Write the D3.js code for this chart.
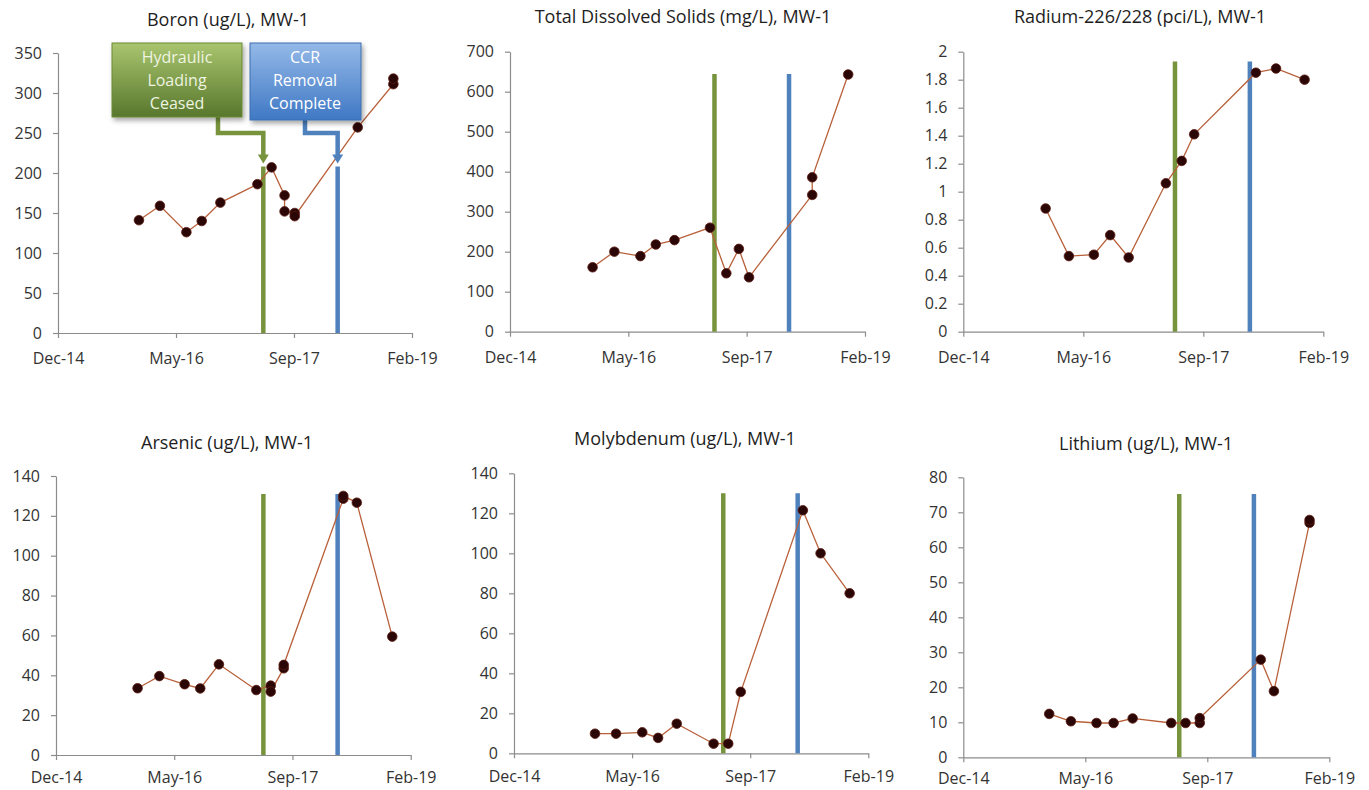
<!DOCTYPE html>
<html><head><meta charset="utf-8">
<script src="https://cdn.jsdelivr.net/npm/d3@7"></script>
<style>
body{margin:0;background:#fff}
svg{display:block}
text{font-family:"Open Sans","Noto Sans",sans-serif}
</style>
</head><body>
<svg id="chart" width="1369" height="790"></svg>
<script>
// ---------- shared axis data ----------
const xTickLabels = ["Dec-14", "May-16", "Sep-17", "Feb-19"];
const xTickDates  = ["2014-12-25", "2016-05-08", "2017-09-20", "2019-02-02"];

const titles = [
  "Boron (ug/L), MW-1",
  "Total Dissolved Solids (mg/L), MW-1",
  "Radium-226/228 (pci/L), MW-1",
  "Arsenic (ug/L), MW-1",
  "Molybdenum (ug/L), MW-1",
  "Lithium (ug/L), MW-1"
];
const yMax   = [350, 700, 2, 140, 140, 80];
const yStep  = [50, 100, 0.2, 20, 20, 10];

// ---------- series ----------
const boronDates  = ["2015-12-03","2016-03-01","2016-06-21","2016-08-25","2016-11-12","2017-04-18","2017-06-17","2017-08-11","2017-08-11","2017-09-23","2017-09-23","2018-06-17","2018-11-15","2018-11-15"];
const boronValues = [141, 159, 126, 140, 163, 186, 207, 172, 152, 150, 146, 257, 311, 318];

const tdsDates  = ["2015-12-09","2016-03-10","2016-06-28","2016-09-01","2016-11-19","2017-04-18","2017-06-26","2017-08-18","2017-09-30","2018-06-24","2018-06-24","2018-11-23"];
const tdsValues = [161, 200, 189, 218, 229, 260, 146, 207, 136, 342, 386, 643];

const radiumDates  = ["2015-12-03","2016-03-09","2016-06-21","2016-08-28","2016-11-13","2017-04-17","2017-06-22","2017-08-13","2018-04-27","2018-07-20","2018-11-16"];
const radiumValues = [0.88, 0.54, 0.55, 0.69, 0.53, 1.06, 1.22, 1.41, 1.85, 1.88, 1.80];

const arsenicDates  = ["2015-12-05","2016-03-06","2016-06-21","2016-08-26","2016-11-13","2017-04-20","2017-06-20","2017-06-20","2017-08-14","2017-08-14","2018-04-23","2018-04-23","2018-06-19","2018-11-16"];
const arsenicValues = [33.5, 39.6, 35.5, 33.4, 45.5, 32.6, 34.8, 31.8, 43.5, 45.2, 128.6, 130, 126.6, 59.4];

const molyDates  = ["2015-12-03","2016-03-01","2016-06-20","2016-08-26","2016-11-13","2017-04-18","2017-06-19","2017-08-11","2018-05-01","2018-07-15","2018-11-15"];
const molyValues = [9.8, 9.8, 10.5, 7.7, 14.8, 4.8, 4.8, 30.7, 121.5, 100, 80];

const lithiumDates  = ["2015-12-12","2016-03-10","2016-06-23","2016-09-01","2016-11-18","2017-04-25","2017-06-23","2017-08-20","2017-08-20","2018-04-27","2018-06-20","2018-11-13","2018-11-13"];
const lithiumValues = [12.4, 10.3, 9.8, 9.8, 11.1, 9.8, 9.8, 9.8, 11.2, 27.9, 18.9, 67, 67.8];

// ---------- event lines ----------
const eventLabels = ["Hydraulic Loading Ceased", "CCR Removal Complete"];
const greenDates = ["2017-05-13","2017-05-07","2017-05-25","2017-05-20","2017-05-29","2017-05-28"];
const blueDates  = ["2018-03-24","2018-03-18","2018-04-02","2018-03-30","2018-04-09","2018-03-30"];
const lineTops   = [212, 644, 1.93, 131, 130, 75.2];

// ---------- layout (pixels) ----------
const layout = [
  {l: 58,    r: 412,    t: 53,    b: 333,   tx: 228,  ty: 26,  pad: 15},
  {l: 510,   r: 865,    t: 51.7,  b: 331.7, tx: 683,  ty: 23,  pad: 15},
  {l: 963.3, r: 1323.3, t: 51.7,  b: 331.7, tx: 1140, ty: 23,  pad: 15},
  {l: 56,    r: 410.7,  t: 476,   b: 755,   tx: 227,  ty: 449, pad: 12},
  {l: 514,   r: 868.3,  t: 473.3, b: 753.3, tx: 685,  ty: 445, pad: 12},
  {l: 963.3, r: 1329.3, t: 477.3, b: 757.3, tx: 1146, ty: 450, pad: 10}
];

const seriesDates  = [boronDates, tdsDates, radiumDates, arsenicDates, molyDates, lithiumDates];
const seriesValues = [boronValues, tdsValues, radiumValues, arsenicValues, molyValues, lithiumValues];

const parse = d3.timeParse("%Y-%m-%d");
const svg = d3.select("#chart");

const defs = svg.append("defs");
const gG = defs.append("linearGradient").attr("id","gGreen").attr("x1",0).attr("y1",0).attr("x2",0).attr("y2",1);
gG.append("stop").attr("offset","0%").attr("stop-color","#a9c56f");
gG.append("stop").attr("offset","100%").attr("stop-color","#58772c");
const gB = defs.append("linearGradient").attr("id","gBlue").attr("x1",0).attr("y1",0).attr("x2",0).attr("y2",1);
gB.append("stop").attr("offset","0%").attr("stop-color","#94b9e8");
gB.append("stop").attr("offset","100%").attr("stop-color","#3f78c4");
const f = defs.append("filter").attr("id","shadow").attr("x","-20%").attr("y","-20%").attr("width","150%").attr("height","150%");
f.append("feDropShadow").attr("dx",2).attr("dy",3).attr("stdDeviation",2.5).attr("flood-color","#000").attr("flood-opacity",0.35);

const GREEN = "#77933c", BLUE = "#4f81bd";
const AXIS = "#8c8c8c", TEXT = "#333333";

const scales = [];

layout.forEach((L, i) => {
  const x = d3.scaleTime().domain([parse(xTickDates[0]), parse(xTickDates[3])]).range([L.l, L.r]);
  const y = d3.scaleLinear().domain([0, yMax[i]]).range([L.b, L.t]);
  scales.push({x, y});
  const g = svg.append("g");

  // title
  g.append("text").attr("x", L.tx).attr("y", L.ty).attr("text-anchor","middle")
    .attr("font-size", 18).attr("fill", "#1e1e1e").text(titles[i]);

  // y axis
  const yTicks = d3.range(0, yMax[i] + yStep[i] / 2, yStep[i]).map(v => +v.toFixed(4));
  const ya = g.append("g").attr("transform", `translate(${L.l},0)`)
    .call(d3.axisLeft(y).tickValues(yTicks).tickSize(5).tickSizeOuter(0).tickPadding(11)
      .tickFormat(d => d3.format("~g")(d)));
  // x axis
  const xa = g.append("g").attr("transform", `translate(0,${L.b})`)
    .call(d3.axisBottom(x).tickValues(xTickDates.map(parse)).tickSize(5).tickSizeOuter(0).tickPadding(L.pad)
      .tickFormat((d, k) => xTickLabels[k]));
  [ya, xa].forEach(a => {
    a.select(".domain").attr("stroke", AXIS).attr("stroke-width", 1.2);
    a.selectAll(".tick line").attr("stroke", AXIS).attr("stroke-width", 1.2);
    a.selectAll(".tick text").attr("fill", TEXT).attr("font-size", 16)
      .attr("font-family", '"Open Sans","Noto Sans",sans-serif');
  });

  // event lines
  const gx = x(parse(greenDates[i])), bx = x(parse(blueDates[i]));
  const top = y(lineTops[i]) + (i === 0 ? 3 : 0);
  g.append("line").attr("x1", gx).attr("x2", gx).attr("y1", top).attr("y2", L.b)
    .attr("stroke", GREEN).attr("stroke-width", 4.5);
  g.append("line").attr("x1", bx).attr("x2", bx).attr("y1", top).attr("y2", L.b)
    .attr("stroke", BLUE).attr("stroke-width", 4.5);

  // series
  const pts = seriesDates[i].map((d, k) => ({d: parse(d), v: seriesValues[i][k]}));
  g.append("path").datum(pts)
    .attr("d", d3.line().x(p => x(p.d)).y(p => y(p.v)))
    .attr("fill", "none").attr("stroke", "#b8603a").attr("stroke-width", 1.3);
  g.selectAll("circle").data(pts).join("circle")
    .attr("cx", p => x(p.d)).attr("cy", p => y(p.v)).attr("r", 4.8)
    .attr("fill", "#2a0606").attr("stroke", "#5a1a10").attr("stroke-width", 0.8);
});

// ---------- callouts on the Boron panel ----------
(function () {
  const {x, y} = scales[0];
  const gx = x(parse(greenDates[0])), bx = x(parse(blueDates[0]));
  const tipY = y(lineTops[0]);
  const a = svg.append("g");

  function connector(fromX, fromY, elbowY, toX, color) {
    a.append("path")
      .attr("d", `M${fromX},${fromY} V${elbowY} H${toX} V${tipY - 8}`)
      .attr("fill", "none").attr("stroke", color).attr("stroke-width", 4.5)
      .attr("stroke-linejoin", "miter");
    a.append("path")
      .attr("d", `M${toX - 5.5},${tipY - 9} L${toX + 5.5},${tipY - 9} L${toX},${tipY} Z`)
      .attr("fill", color);
  }
  connector(218, 117, 133, gx, GREEN);
  connector(305, 120, 133, bx, BLUE);

  const boxes = [
    {x0: 112, y0: 43, w: 130, h: 74, fill: "url(#gGreen)", stroke: "#6b8a35", tc: "#eef4e0", lines: ["Hydraulic", "Loading", "Ceased"], cx: 177},
    {x0: 250, y0: 43, w: 111, h: 77, fill: "url(#gBlue)", stroke: "#3c6fae", tc: "#ffffff", lines: ["CCR", "Removal", "Complete"], cx: 305}
  ];
  boxes.forEach((b, k) => {
    a.append("rect").attr("x", b.x0).attr("y", b.y0).attr("width", b.w).attr("height", b.h)
      .attr("fill", b.fill).attr("stroke", b.stroke).attr("stroke-width", 1)
      .attr("filter", "url(#shadow)");
    const t = a.append("text").attr("text-anchor", "middle").attr("fill", b.tc).attr("font-size", 16);
    t.append("title").text(eventLabels[k]);
    b.lines.forEach((s, j) => {
      t.append("tspan").attr("x", b.cx).attr("y", b.y0 + 20 + j * 23).text(s);
    });
  });
})();
</script>
</body></html>
